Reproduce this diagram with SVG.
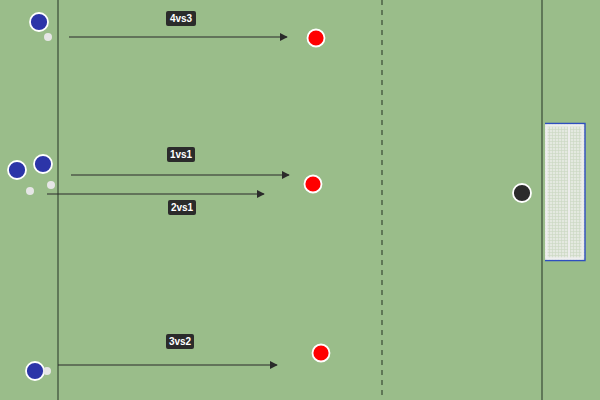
<svg xmlns="http://www.w3.org/2000/svg" width="600" height="400" viewBox="0 0 600 400">
<defs>
<marker id="ah" viewBox="0 0 10 10" refX="9" refY="5" markerWidth="8" markerHeight="8" markerUnits="userSpaceOnUse" orient="auto"><path d="M0,0 L10,5 L0,10 z" fill="#2b2b2b"/></marker>
<pattern id="net" width="3" height="3" patternUnits="userSpaceOnUse"><rect width="3" height="3" fill="#e4e9e0"/><path d="M0,0.5H3M0.5,0V3" stroke="#c9d6c1" stroke-width="0.6"/></pattern>
<style>
.line{stroke:#3a4a36;stroke-width:1.2;fill:none}
.arrow{stroke:#2b2b2b;stroke-width:1.2;fill:none;marker-end:url(#ah)}
.blue{fill:#2c35a8;stroke:#fff;stroke-width:1.8}
.red{fill:#ff0000;stroke:#fff;stroke-width:1.8}
.ball{fill:#e6e6e6}
.lbl rect{fill:#2b2b2b}
.lbl text{fill:#fff;font-family:"Liberation Sans",Arial,sans-serif;font-size:10px;font-weight:bold;text-anchor:middle}
</style>
</defs>
<rect width="600" height="400" fill="#9abd8a"/>
<g id="pitch">
<line class="line" x1="58" y1="0" x2="58" y2="400"/>
<line class="line" x1="382" y1="0" x2="382" y2="400" stroke-dasharray="5,5"/>
<line class="line" x1="542" y1="0" x2="542" y2="400"/>
</g>
<g id="goal">
<rect x="545" y="123" width="40" height="138" fill="url(#net)"/>
<path d="M545,123.5H585V260.5H545" fill="none" stroke="#2f4fbf" stroke-width="1.4"/>
<rect x="546.5" y="125.5" width="36" height="133" fill="none" stroke="#eeeeee" stroke-width="2.2"/>
<line x1="569" y1="126" x2="569" y2="258" stroke="#eeeeee" stroke-width="1.8"/>
</g>
<g id="connectors">
<line class="arrow" x1="69" y1="37" x2="287" y2="37"/>
<line class="arrow" x1="71" y1="175" x2="289" y2="175"/>
<line class="arrow" x1="47" y1="194" x2="264" y2="194"/>
<line class="arrow" x1="58" y1="365" x2="277" y2="365"/>
</g>
<g id="labels">
<g id="lbl-4vs3" class="lbl"><rect x="166" y="11" width="30" height="15" rx="2"/><text x="181" y="22">4vs3</text></g>
<g id="lbl-1vs1" class="lbl"><rect x="167" y="147" width="28" height="15" rx="2"/><text x="181" y="158">1vs1</text></g>
<g id="lbl-2vs1" class="lbl"><rect x="168" y="200" width="28" height="15" rx="2"/><text x="182" y="211">2vs1</text></g>
<g id="lbl-3vs2" class="lbl"><rect x="166" y="334" width="28" height="15" rx="2"/><text x="180" y="345">3vs2</text></g>
</g>
<g id="attackers">
<circle id="b1" class="blue" cx="39" cy="22" r="9"/>
<circle id="ball1" class="ball" cx="48" cy="37" r="4"/>
<circle id="b2" class="blue" cx="17" cy="170" r="9"/>
<circle id="b3" class="blue" cx="43" cy="164" r="9"/>
<circle id="ball2" class="ball" cx="30" cy="191" r="4"/>
<circle id="ball3" class="ball" cx="51" cy="185" r="4"/>
<circle id="b4" class="blue" cx="35" cy="371" r="9"/>
<circle id="ball4" class="ball" cx="47" cy="371" r="4"/>
</g>
<g id="defenders">
<circle id="r1" class="red" cx="316" cy="38" r="8.5"/>
<circle id="r2" class="red" cx="313" cy="184" r="8.5"/>
<circle id="r3" class="red" cx="321" cy="353" r="8.5"/>
</g>
<g id="keeper">
<circle class="blue" cx="522" cy="193" r="9" style="fill:#2b2b2b"/>
</g>
</svg>
